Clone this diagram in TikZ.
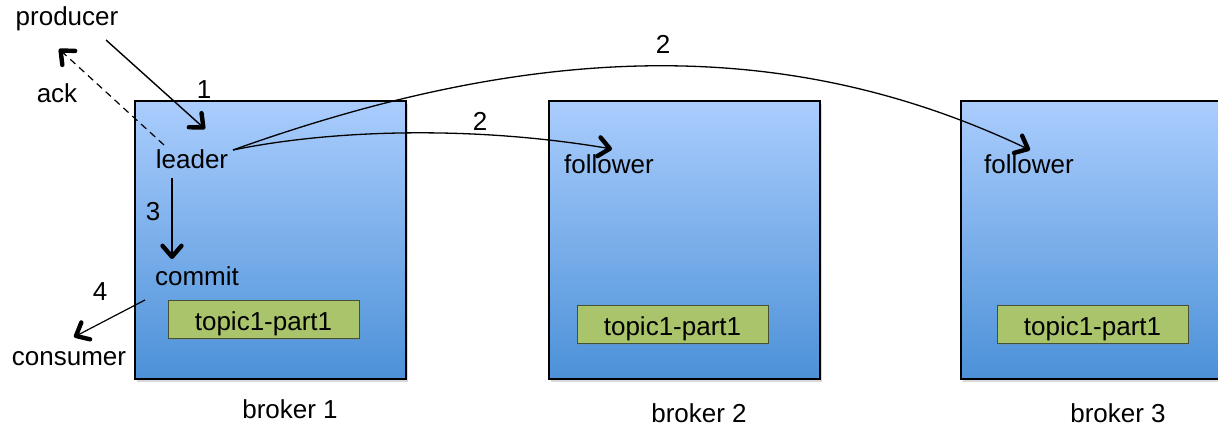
\documentclass[tikz,border=0pt]{standalone}
\usepackage{fontspec}
\setmainfont{Liberation Sans}
\usetikzlibrary{arrows.meta,shadows}
\definecolor{boxtop}{RGB}{170,205,253}
\definecolor{boxbot}{RGB}{76,145,216}
\definecolor{partfill}{RGB}{170,196,108}
\definecolor{partline}{RGB}{70,80,50}
\begin{document}
\begin{tikzpicture}[x=1pt,y=-1pt,
  font=\fontsize{26}{30}\selectfont,
  broker/.style={draw=black, line width=1.3pt, top color=boxtop, bottom color=boxbot,
    minimum width=271pt, minimum height=278pt, inner sep=0pt,
    drop shadow={shadow xshift=1.5pt, shadow yshift=-3pt, opacity=0.3}},
  part/.style={draw=partline, fill=partfill, line width=0.9pt,
    minimum width=191pt, minimum height=38pt, inner sep=0pt,
    drop shadow={shadow xshift=1pt, shadow yshift=-2pt, opacity=0.3}},
  lbl/.style={inner sep=0pt, anchor=base},
  tipa/.style={arrows={-Straight Barb[length=11pt,width=19pt,line width=4.4pt 0,round]}},
  conn/.style={line width=1.4pt, tipa}]
\useasboundingbox (0,0) rectangle (1218,426);
% brokers
\node[broker] (b1) at (270.5,240) {};
\node[broker] (b2) at (684.5,240) {};
\node[broker] (b3) at (1096.5,240) {};
\node[part] (g1) at (263.5,319) {};
\node[part] (g2) at (672.5,324) {};
\node[part] (g3) at (1092.5,324) {};
\node[lbl] (t1) at (263.5,330) {topic1-part1};
\node[lbl] (t2) at (672.5,335) {topic1-part1};
\node[lbl] (t3) at (1092.5,335) {topic1-part1};
\node[lbl] (bl1) at (290,418) {broker 1};
\node[lbl] (bl2) at (699,422) {broker 2};
\node[lbl] (bl3) at (1118,422) {broker 3};
% texts
\node[lbl] (producer) at (67,25) {producer};
\node[lbl] (ack) at (57,102) {ack};
\node[lbl] (n1) at (204,98) {1};
\node[lbl] (leader) at (192,168) {leader};
\node[lbl] (n3) at (153,220) {3};
\node[lbl] (commit) at (197,285) {commit};
\node[lbl] (n4) at (100,300) {4};
\node[lbl] (consumer) at (69,365) {consumer};
\node[lbl] (f2) at (609,173) {follower};
\node[lbl] (f3) at (1029,173) {follower};
\node[lbl] (n2a) at (480,130) {2};
\node[lbl] (n2b) at (663,53) {2};
% connector ends
\coordinate (pstart) at (106,40);
\coordinate (pend) at (205,129);
\coordinate (astart) at (164,145);
\coordinate (aend) at (59,49);
\coordinate (cstart) at (172,178);
\coordinate (cend) at (172,259);
\coordinate (kstart) at (145,300);
\coordinate (kend) at (74,337);
\coordinate (lstart) at (233,150);
\coordinate (f2end) at (612,149);
\coordinate (f3end) at (1030,150);
% connectors
\draw[conn] (pstart) -- (pend);
\draw[conn, line width=1.2pt, dash pattern=on 7pt off 5pt] (astart) -- (aend);
\draw[conn] (cstart) -- (cend);
\draw[conn, line width=1.2pt] (kstart) -- (kend);
\draw[conn, line width=1.3pt] (lstart) .. controls (330,130) and (470,125) .. (f2end);
\draw[conn, line width=1.3pt] (lstart) .. controls (540,40) and (790,36) .. (f3end);
\end{tikzpicture}
\end{document}
